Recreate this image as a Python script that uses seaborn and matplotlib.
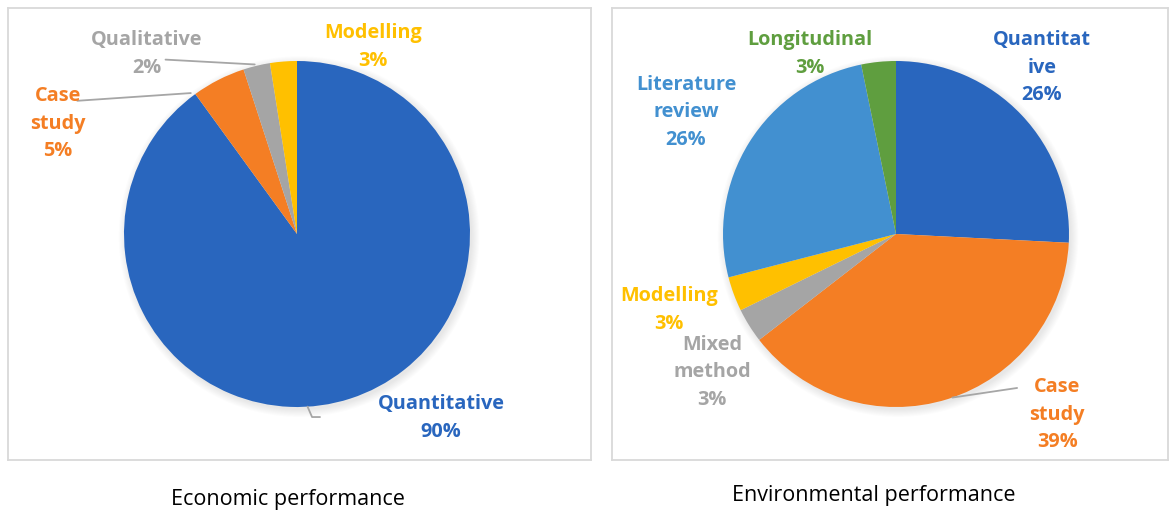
import numpy as np
import seaborn as sns
import matplotlib.pyplot as plt
from matplotlib.patches import Circle

# economic performance (left pie), shares of studies
econ_labels = ['Quantitative\n90%', 'Case\nstudy\n5%', 'Qualitative\n2%', 'Modelling\n3%']
econ_values = [90, 5, 2.5, 2.5]
econ_colors = ['#2966BE', '#F47E24', '#A5A5A5', '#FFC000']

# environmental performance (right pie), number of studies
env_labels = ['Quantitat\nive\n26%', 'Case\nstudy\n39%', 'Mixed\nmethod\n3%',
              'Modelling\n3%', 'Literature\nreview\n26%', 'Longitudinal\n3%']
env_values = [8, 12, 1, 1, 8, 1]
env_colors = ['#2966BE', '#F47E24', '#A5A5A5', '#FFC000', '#4290D0', '#5F9E3F']

captions = ['Economic performance', 'Environmental performance']

sns.set_theme(style='white')
plt.rcParams['font.family'] = ['Open Sans', 'DejaVu Sans']

W, H = 1171, 513
R = 173.0  # pie radius in px
fig = plt.figure(figsize=(W / 100, H / 100), dpi=100)


def make_ax(box):
    # box = (left, top, right, bottom) in px
    l, t, r, b = box
    return fig.add_axes([l / W, 1 - b / H, (r - l) / W, (b - t) / H])


def draw_pie(ax, values, colors, labels, label_pos, box, center):
    # soft shadow
    for k in range(8):
        ax.add_patch(Circle((0.012, -0.015), 1.0 + k * 0.006, color='#888888',
                            alpha=0.025, lw=0, zorder=0))
    ax.pie(values, colors=colors, startangle=90, counterclock=False,
           wedgeprops=dict(linewidth=0), radius=1.0, frame=True)
    for lab, col, (x, y) in zip(labels, colors, label_pos):
        ax.text(x, y, lab, color=col, ha='center', va='center',
                fontsize=14.3, fontweight='bold', linespacing=1.5)
    ax.set_aspect('auto')
    l, t, r, b = box
    cx, cy = center
    ax.set_xlim((l - cx) / R, (r - cx) / R)
    ax.set_ylim((cy - b) / R, (cy - t) / R)
    ax.set_xticks([])
    ax.set_yticks([])
    for s in ax.spines.values():
        s.set_visible(True)
        s.set_color('#D9D9D9')
        s.set_linewidth(1.3)


lc = '#A6A6A6'

# left panel
box1 = (8, 8, 591, 460)
ax1 = make_ax(box1)
econ_pos = [(0.832, -1.064), (-1.382, 0.636), (-0.867, 1.040), (0.439, 1.081)]
draw_pie(ax1, econ_values, econ_colors, econ_labels, econ_pos, box1, (297, 234))

# leader lines
a = np.deg2rad(-86.5)
ax1.plot([np.cos(a), 0.087, 0.133], [np.sin(a), -1.058, -1.058], color=lc, lw=1.3)
a = np.deg2rad(127)
ax1.plot([np.cos(a) * 1.02, -1.27], [np.sin(a) * 1.02, 0.77], color=lc, lw=1.3)
a = np.deg2rad(104)
ax1.plot([np.cos(a) * 1.01, -0.76], [np.sin(a) * 1.01, 1.008], color=lc, lw=1.3)

# right panel
box2 = (612, 8, 1168, 460)
ax2 = make_ax(box2)
env_pos = [(0.844, 0.960), (0.931, -1.046), (-1.064, -0.798),
           (-1.312, -0.439), (-1.214, 0.705), (-0.497, 1.040)]
draw_pie(ax2, env_values, env_colors, env_labels, env_pos, box2, (896, 234))
a = np.deg2rad(-71)
ax2.plot([np.cos(a), 0.70], [np.sin(a), -0.89], color=lc, lw=1.3)

# captions
fig.text(288 / W, 1 - 500 / H, captions[0], ha='center', va='center',
         fontsize=15.5, color='black')
fig.text(874 / W, 1 - 496 / H, captions[1], ha='center', va='center',
         fontsize=15.5, color='black')

fig.savefig('out.png', dpi=100)
